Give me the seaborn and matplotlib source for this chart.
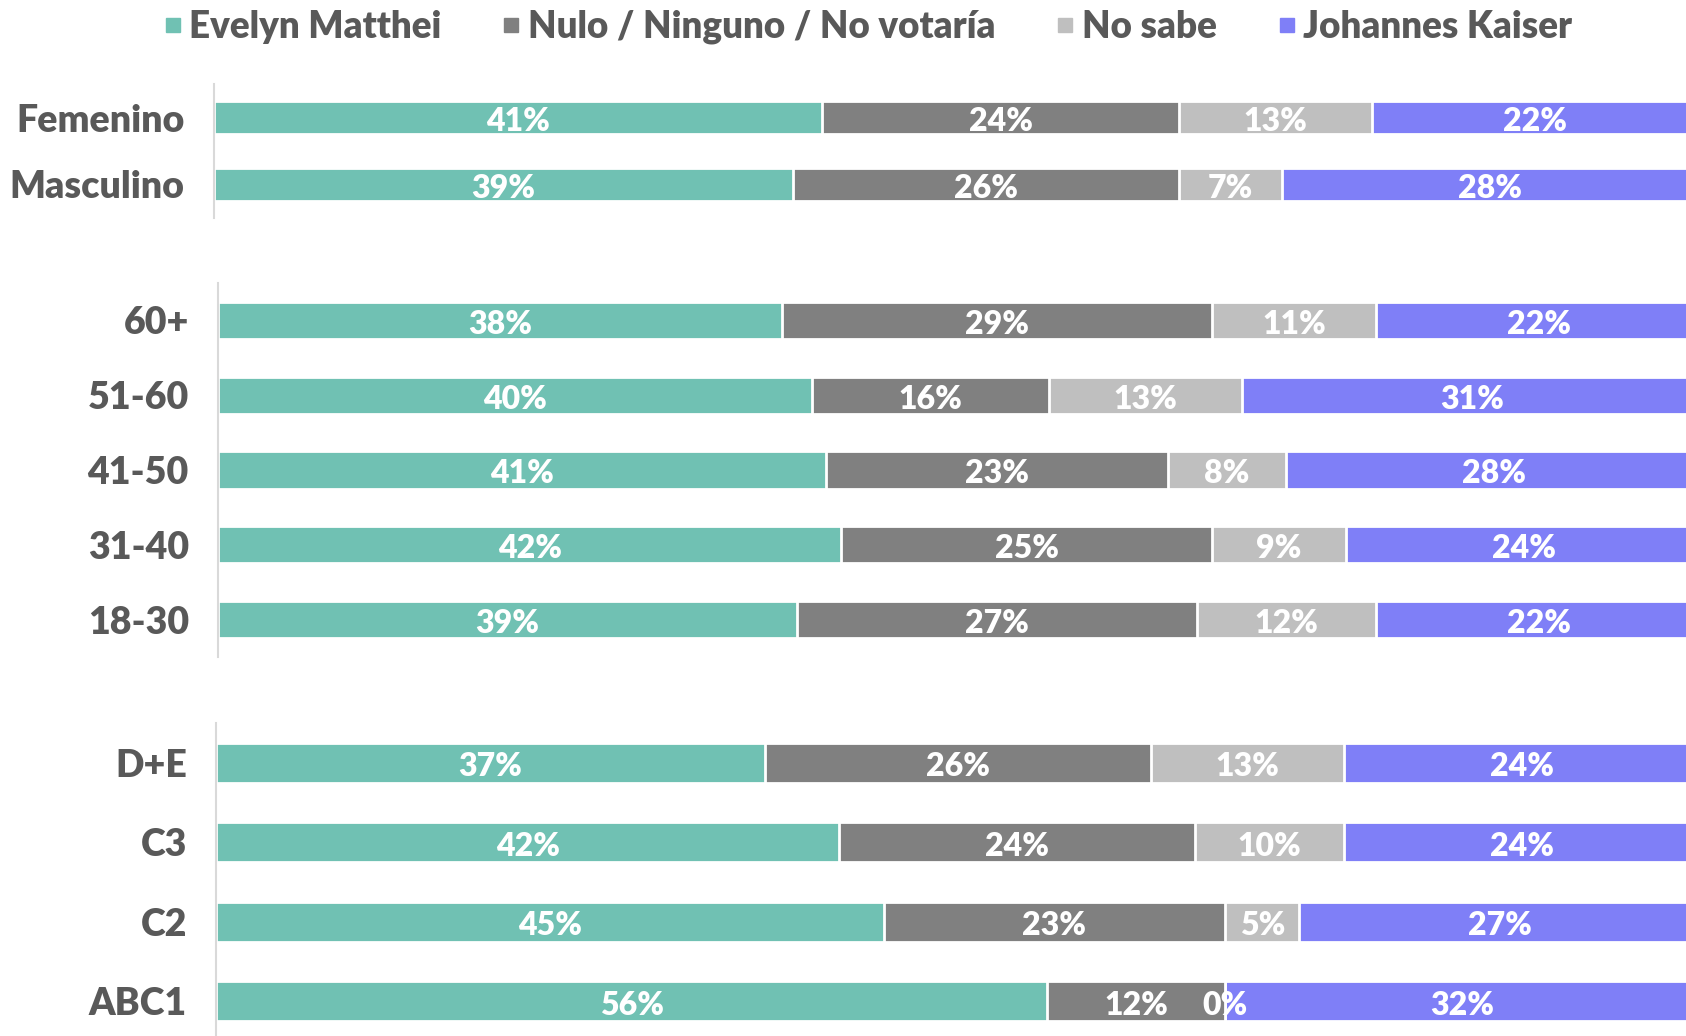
import matplotlib
matplotlib.use("Agg")
import matplotlib.pyplot as plt
from matplotlib.lines import Line2D
import seaborn as sns
import pandas as pd
import numpy as np

# ---- data ----
series = ["Evelyn Matthei", "Nulo / Ninguno / No votaría", "No sabe", "Johannes Kaiser"]
colors = ["#70C1B3", "#808080", "#BFBFBF", "#7F7FF7"]

gender_cats = ["Femenino", "Masculino"]
gender_matthei = [41, 39]
gender_nulo = [24, 26]
gender_nosabe = [13, 7]
gender_kaiser = [22, 28]

age_cats = ["60+", "51-60", "41-50", "31-40", "18-30"]
age_matthei = [38, 40, 41, 42, 39]
age_nulo = [29, 16, 23, 25, 27]
age_nosabe = [11, 13, 8, 9, 12]
age_kaiser = [22, 31, 28, 24, 22]

gse_cats = ["D+E", "C3", "C2", "ABC1"]
gse_matthei = [37, 42, 45, 56]
gse_nulo = [26, 24, 23, 12]
gse_nosabe = [13, 10, 5, 0]
gse_kaiser = [24, 24, 27, 32]

sns.set_style("white")
plt.rcParams["font.family"] = ["Lato", "DejaVu Sans"]
plt.rcParams["font.weight"] = "bold"

W, H = 1686, 1036
fig = plt.figure(figsize=(W / 100, H / 100), dpi=100)

SCALE = 1484.0  # px per 100%
panels = [
    (gender_cats, [gender_matthei, gender_nulo, gender_nosabe, gender_kaiser], 214, 84, 218),
    (age_cats, [age_matthei, age_nulo, age_nosabe, age_kaiser], 218, 283, 657),
    (gse_cats, [gse_matthei, gse_nulo, gse_nosabe, gse_kaiser], 216, 723, 1041),
]

for cats, vals, left_px, top_px, bot_px in panels:
    ax = fig.add_axes([left_px / W, 1 - bot_px / H, 1 - left_px / W, (bot_px - top_px) / H])
    arr = np.array(vals, dtype=float)  # shape (4, n)
    cum = np.cumsum(arr, axis=0)
    df = pd.DataFrame({"cat": cats})
    for i in range(4):
        df[f"c{i}"] = cum[i]
    for i in range(3, -1, -1):
        sns.barplot(data=df, y="cat", x=f"c{i}", orient="h", color=colors[i],
                    saturation=1, width=0.5, edgecolor="white", linewidth=2,
                    ax=ax, order=cats)
    n = len(cats)
    for i in range(4):
        for j in range(n):
            start = cum[i][j] - arr[i][j]
            ax.text(start + arr[i][j] / 2, j + 0.02, f"{int(arr[i][j])}%", ha="center",
                    va="center_baseline", color="white", fontsize=23, fontweight="heavy")
    ax.set_xlim(0, (W - left_px) / SCALE * 100)
    ax.set_ylim(n - 0.5, -0.5)
    ax.set_xlabel("")
    ax.set_ylabel("")
    ax.set_xticks([])
    for s in ["top", "right", "bottom"]:
        ax.spines[s].set_visible(False)
    ax.spines["left"].set_color("#D9D9D9")
    ax.spines["left"].set_linewidth(1.5)
    ax.tick_params(axis="y", length=0, pad=21, labelsize=27, labelcolor="#595959")
    for lbl in ax.get_yticklabels():
        lbl.set_fontweight("heavy")
        lbl.set_verticalalignment("center_baseline")

handles = [Line2D([0], [0], marker="s", linestyle="", markersize=10.5,
                  markerfacecolor=c, markeredgecolor=c) for c in colors]
fig.legend(handles, series, loc="center", bbox_to_anchor=(867 / W, 1 - 27 / H),
           ncol=4, frameon=False, handletextpad=0.15, columnspacing=1.6,
           handlelength=0.6, labelcolor="#595959", prop={"weight": "heavy", "size": 26.5})

fig.savefig("out.png", dpi=100)
